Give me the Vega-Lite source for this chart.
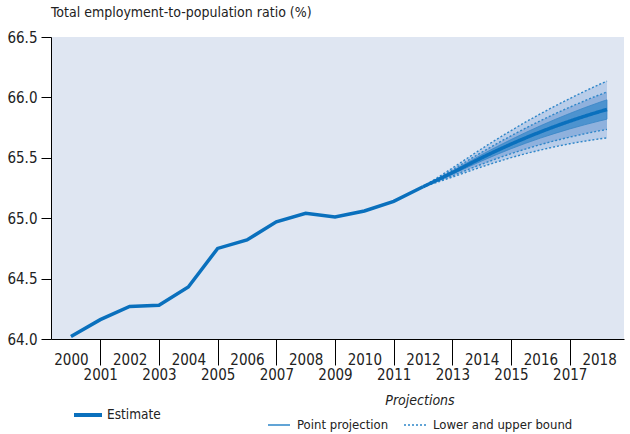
{
  "$schema": "https://vega.github.io/schema/vega-lite/v6.json",
  "autosize": {"type": "none"},
  "padding": {"left": 51, "top": 37, "right": 6, "bottom": 95},
  "width": 573,
  "height": 302,
  "background": "#ffffff",
  "config": {
    "font": "DejaVu Sans Condensed, Roboto, sans-serif",
    "view": {"fill": "#dfe6f2", "stroke": null},
    "axis": {"labelFont": "DejaVu Sans Condensed, Roboto, sans-serif", "labelFontSize": 15, "labelColor": "#222222", "domainColor": "#000000", "tickColor": "#000000", "grid": false, "title": null},
    "legend": {"labelFont": "DejaVu Sans Condensed, Roboto, sans-serif", "labelFontSize": 13, "labelColor": "#222222", "titleFont": "DejaVu Sans Condensed, Roboto, sans-serif"}
  },
  "title": {"text": "Total employment-to-population ratio (%)", "anchor": "start", "frame": "group", "font": "DejaVu Sans Condensed, Roboto, sans-serif", "fontSize": 14, "fontWeight": "normal", "color": "#222222", "offset": 10},
  "datasets": {
    "estimate": [
      {"year": 2000, "value": 64.02},
      {"year": 2001, "value": 64.16},
      {"year": 2002, "value": 64.27},
      {"year": 2003, "value": 64.28},
      {"year": 2004, "value": 64.43},
      {"year": 2005, "value": 64.75},
      {"year": 2006, "value": 64.82},
      {"year": 2007, "value": 64.97},
      {"year": 2008, "value": 65.04},
      {"year": 2009, "value": 65.01},
      {"year": 2010, "value": 65.06},
      {"year": 2011, "value": 65.14},
      {"year": 2012, "value": 65.26}
    ],
    "proj": [
      {"year": 2012, "c": 65.26, "lo1": 65.26, "hi1": 65.26, "lo2": 65.26, "hi2": 65.26, "lo3": 65.26, "hi3": 65.26},
      {"year": 2013, "c": 65.377, "lo1": 65.340, "hi1": 65.415, "lo2": 65.351, "hi2": 65.400, "lo3": 65.364, "hi3": 65.390},
      {"year": 2014, "c": 65.500, "lo1": 65.425, "hi1": 65.575, "lo2": 65.447, "hi2": 65.546, "lo3": 65.474, "hi3": 65.526},
      {"year": 2015, "c": 65.613, "lo1": 65.501, "hi1": 65.725, "lo2": 65.534, "hi2": 65.682, "lo3": 65.575, "hi3": 65.651},
      {"year": 2016, "c": 65.714, "lo1": 65.564, "hi1": 65.864, "lo2": 65.609, "hi2": 65.807, "lo3": 65.663, "hi3": 65.765},
      {"year": 2017, "c": 65.803, "lo1": 65.616, "hi1": 65.990, "lo2": 65.671, "hi2": 65.919, "lo3": 65.739, "hi3": 65.867},
      {"year": 2018, "c": 65.881, "lo1": 65.656, "hi1": 66.106, "lo2": 65.723, "hi2": 66.020, "lo3": 65.804, "hi3": 65.958},
      {"year": 2018.27, "c": 65.900, "lo1": 65.665, "hi1": 66.135, "lo2": 65.735, "hi2": 66.045, "lo3": 65.820, "hi3": 65.980}
    ]
  },
  "resolve": {"scale": {"color": "independent", "strokeDash": "independent"}},
  "encoding": {
    "x": {"field": "year", "type": "quantitative",
      "scale": {"domain": [1999.32, 2018.85], "nice": false, "zero": false},
      "axis": {"values": [2000,2001,2002,2003,2004,2005,2006,2007,2008,2009,2010,2011,2012,2013,2014,2015,2016,2017,2018],
        "format": "d", "tickSize": 26, "domainWidth": 1,
        "tickOpacity": {"condition": {"test": "datum.value % 2 == 1", "value": 1}, "value": 0},
        "labelPadding": {"condition": {"test": "datum.value % 2 == 0", "value": -13}, "value": 2.5},
        "labelFlush": false, "labelOverlap": false}}
  },
  "layer": [
    {
      "data": {"name": "proj"},
      "mark": {"type": "area", "color": "#b9cde9", "interpolate": "monotone"},
      "encoding": {"y": {"field": "lo1", "type": "quantitative"}, "y2": {"field": "hi1"}}
    },
    {
      "data": {"name": "proj"},
      "mark": {"type": "area", "color": "#8fb1dd", "interpolate": "monotone"},
      "encoding": {"y": {"field": "lo2", "type": "quantitative"}, "y2": {"field": "hi2"}}
    },
    {
      "data": {"name": "proj"},
      "mark": {"type": "area", "color": "#4d93cf", "interpolate": "monotone", "stroke": "#3a86c6", "strokeWidth": 0.8},
      "encoding": {"y": {"field": "lo3", "type": "quantitative"}, "y2": {"field": "hi3"}}
    },
    {
      "data": {"name": "proj"},
      "transform": [{"fold": ["lo1", "hi1", "lo2", "hi2"], "as": ["bound", "bv"]}],
      "mark": {"type": "line", "color": "#2e86c9", "strokeWidth": 1.4, "interpolate": "monotone"},
      "encoding": {
        "y": {"field": "bv", "type": "quantitative"},
        "detail": {"field": "bound"},
        "strokeDash": {"datum": "Lower and upper bound", "type": "nominal",
          "scale": {"domain": ["Point projection", "Lower and upper bound"], "range": [[1, 0], [2, 2]]},
          "legend": {"title": "Projections", "titleFontStyle": "italic", "titleFontWeight": "normal", "titleFontSize": 14, "titleColor": "#222222", "titleAnchor": "middle",
            "direction": "horizontal", "orient": "none", "legendX": 216, "legendY": 357,
            "symbolType": "stroke", "symbolStrokeColor": "#2e86c9", "symbolStrokeWidth": 1.5, "symbolSize": 484, "columnPadding": 12, "labelOffset": 6}}
      }
    },
    {
      "data": {"name": "proj"},
      "mark": {"type": "line", "color": "#0a70bd", "strokeWidth": 3.5, "interpolate": "monotone"},
      "encoding": {
        "y": {"field": "c", "type": "quantitative"},
        "strokeDash": {"datum": "Point projection", "type": "nominal"}
      }
    },
    {
      "data": {"name": "estimate"},
      "mark": {"type": "line", "strokeWidth": 3.5},
      "encoding": {
        "y": {"field": "value", "type": "quantitative",
          "scale": {"domain": [64, 66.5], "nice": false, "zero": false},
          "axis": {"values": [64, 64.5, 65, 65.5, 66, 66.5], "format": ".1f", "tickSize": 10, "labelPadding": 4}},
        "color": {"datum": "Estimate", "type": "nominal", "scale": {"range": ["#0a70bd"]},
          "legend": {"title": null, "orient": "none", "legendX": 21, "legendY": 362, "symbolType": "stroke", "symbolStrokeWidth": 4, "symbolSize": 784, "labelOffset": 3, "labelFontSize": 13.5}}
      }
    }
  ]
}
